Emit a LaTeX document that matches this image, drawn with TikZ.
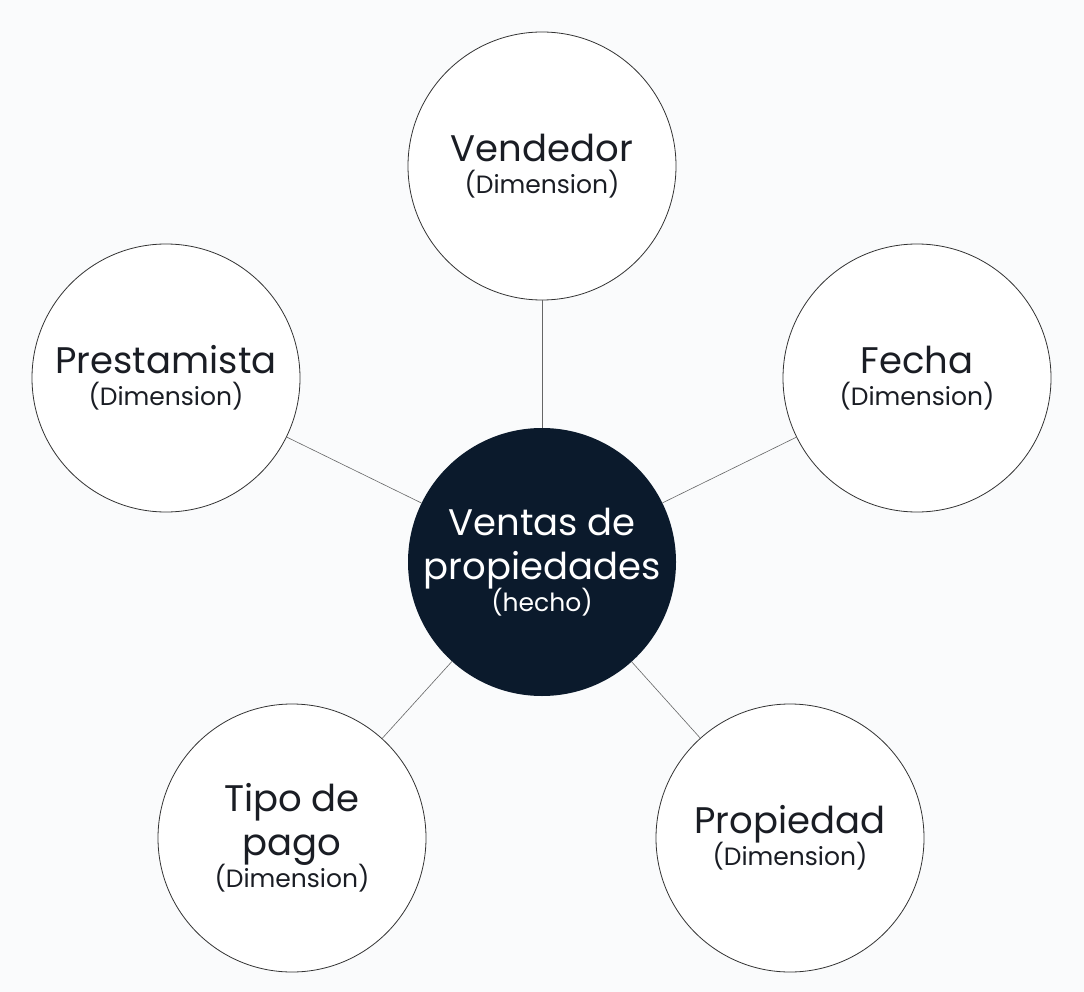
\documentclass[tikz,border=0pt]{standalone}
\usepackage{fontspec}
\setmainfont{Poppins}
\definecolor{bg}{HTML}{FAFBFC}
\definecolor{navy}{HTML}{0B1A2C}
\definecolor{txt}{HTML}{1A1D24}
\newcommand{\dimsub}[1]{{\fontsize{25}{28}\selectfont #1}}
\begin{document}
\begin{tikzpicture}[x=1pt,y=-1pt,
  dim/.style={circle,draw=black!80,line width=0.8pt,fill=white,minimum size=268pt,inner sep=0pt,align=center,text=txt,font=\fontsize{37}{44}\selectfont},
  fact/.style={circle,fill=navy,minimum size=268pt,inner sep=0pt,align=center,text=white,font=\fontsize{37}{44}\selectfont},
  link/.style={draw=black!60,line width=0.6pt}]
\fill[bg] (0,0) rectangle (1084,992);
\useasboundingbox (0,0) rectangle (1084,992);
\node[fact] (c) at (542,562) {Ventas de\\propiedades\\[-12pt]\dimsub{(hecho)}};
\node[dim] (v) at (542,166) {Vendedor\\[-12pt]\dimsub{(Dimension)}};
\node[dim] (p) at (166,378) {Prestamista\\[-12pt]\dimsub{(Dimension)}};
\node[dim] (f) at (917,378) {Fecha\\[-12pt]\dimsub{(Dimension)}};
\node[dim] (t) at (292,838) {Tipo de\\pago\\[-12pt]\dimsub{(Dimension)}};
\node[dim] (pr) at (790,838) {Propiedad\\[-12pt]\dimsub{(Dimension)}};
\draw[link] (c) -- (v);
\draw[link] (c) -- (p);
\draw[link] (c) -- (f);
\draw[link] (c) -- (t);
\draw[link] (c) -- (pr);
\end{tikzpicture}
\end{document}
